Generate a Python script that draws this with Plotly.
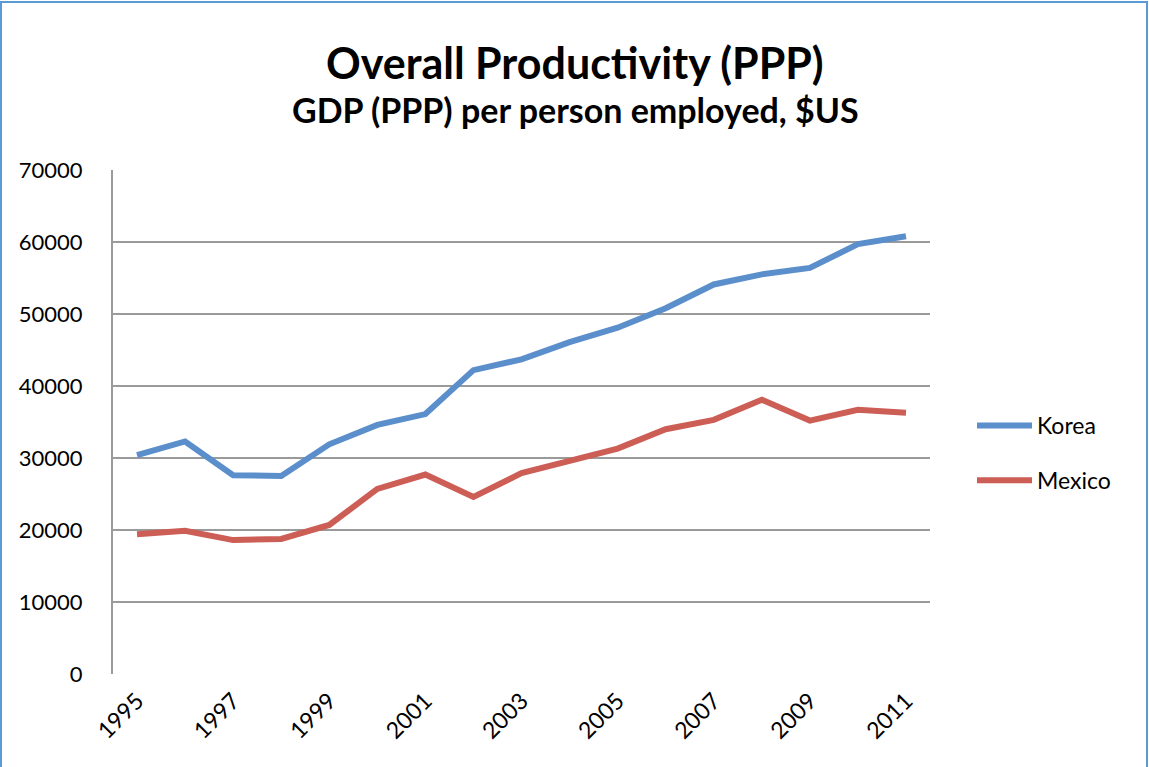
import plotly.graph_objects as go

years = list(range(1995, 2012))
korea = [30400, 32300, 27600, 27500, 31900, 34600, 36100, 42200, 43700, 46100,
         48100, 50800, 54100, 55500, 56400, 59700, 60800]
mexico = [19400, 19900, 18600, 18750, 20700, 25700, 27700, 24600, 27900, 29500,
          31300, 34000, 35300, 38100, 35200, 36700, 36300]
tick_years = list(range(1995, 2012, 2))
y_ticks = list(range(0, 70001, 10000))

W, H = 1149, 767
L, R, T, B = 113, 930, 170, 674
FONT = "Lato"

def px(x):
    return (x - L) / (R - L)

def py(y):
    return (B - y) / (B - T)

fig = go.Figure()
fig.add_trace(go.Scatter(x=years, y=korea, mode="lines", name="Korea",
                         legendgroup="k",
                         line=dict(color="#5b8fcb", width=6)))
fig.add_trace(go.Scatter(x=years, y=mexico, mode="lines", name="Mexico",
                         legendgroup="m",
                         line=dict(color="#cc5e56", width=6)))

fig.update_layout(
    width=W, height=H,
    margin=dict(l=L, r=W - R, t=T, b=H - B, pad=0),
    paper_bgcolor="white", plot_bgcolor="white",
    font=dict(family=FONT, color="black", size=22),
    showlegend=True,
    legend=dict(x=px(972), y=py(453), xanchor="left", yanchor="middle",
                font=dict(size=23, family=FONT), tracegroupgap=22,
                itemwidth=55, bgcolor="rgba(0,0,0,0)"),
    xaxis=dict(range=[1994.5, 2011.5], tickmode="array", tickvals=tick_years,
               ticktext=[str(y) for y in tick_years], tickangle=-45,
               showgrid=False, zeroline=False, showline=False,
               ticks="", ticklabelstandoff=8,
               tickfont=dict(size=23, family=FONT)),
    yaxis=dict(range=[0, 70000], tickmode="array", tickvals=y_ticks,
               ticktext=[str(v) for v in y_ticks],
               showgrid=True, gridcolor="#9a9a9a", gridwidth=2,
               zeroline=False, showline=True, linecolor="#9a9a9a", linewidth=2,
               ticks="", ticklabelstandoff=24,
               tickfont=dict(size=22, family=FONT)),
    annotations=[
        dict(text="<b>Overall Productivity (PPP)</b>", x=px(575), y=py(62),
             xref="paper", yref="paper", showarrow=False,
             font=dict(size=43, family=FONT), xanchor="center", yanchor="middle"),
        dict(text="<b>GDP (PPP) per person employed, $US</b>", x=px(575), y=py(109),
             xref="paper", yref="paper", showarrow=False,
             font=dict(size=34, family=FONT), xanchor="center", yanchor="middle"),
    ],
    shapes=[
        dict(type="rect", xref="paper", yref="paper",
             x0=px(1), x1=px(1147), y0=py(775), y1=py(2),
             line=dict(color="#5b9bd5", width=2), layer="below"),
    ],
)

fig.write_html("out.html", config={"displayModeBar": False},
               post_script="document.body.style.margin='0';document.body.style.padding='0';")
